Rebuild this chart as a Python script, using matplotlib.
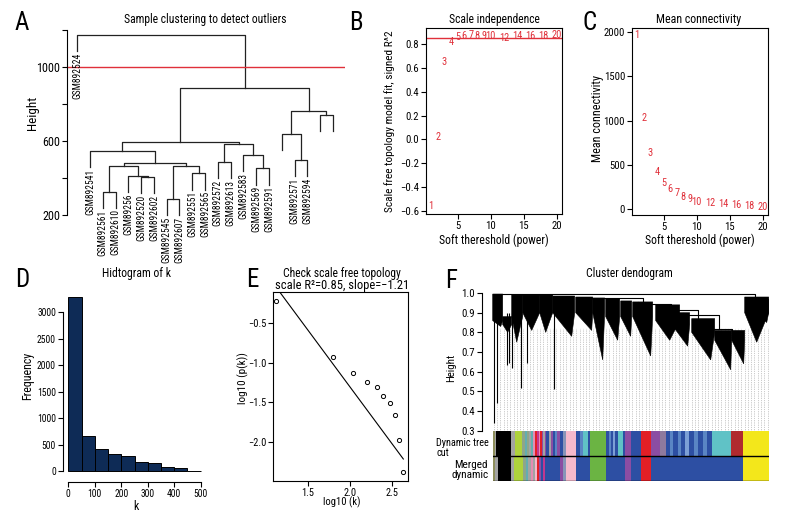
import numpy as np
import matplotlib
matplotlib.use('Agg')
import matplotlib.pyplot as plt
from matplotlib import font_manager
from matplotlib.font_manager import FontProperties
from matplotlib.textpath import TextPath

# ---------------- data ----------------
# A: sample clustering (leaf order left->right, merges as in hclust)
sample_labels = ['GSM892524', 'GSM892541', 'GSM892561', 'GSM892610', 'GSM89256',
                 'GSM892520', 'GSM892602', 'GSM892545', 'GSM892607', 'GSM892551',
                 'GSM892565', 'GSM892572', 'GSM892613', 'GSM892583', 'GSM892569',
                 'GSM892591', '', 'GSM892571', 'GSM892594', '', '']
merge_a = [2, 5, 4, 21, 7, 9, 25, 24, 1, 11, 14, 13, 30, 29, 17, 16, 19, 36, 34, 0]
merge_b = [3, 6, 22, 23, 8, 10, 26, 27, 28, 12, 15, 31, 32, 33, 18, 35, 20, 37, 38, 39]
merge_h = [325, 405, 411, 465, 285, 424, 462, 478, 546, 485, 451, 524, 580, 591,
           496, 636, 739, 762, 883, 1171]
cut_height = 1000

# B, C: soft threshold
powers = [1, 2, 3, 4, 5, 6, 7, 8, 9, 10, 12, 14, 16, 18, 20]
sft_r2 = [-0.56, 0.02, 0.65, 0.82, 0.86, 0.87, 0.875, 0.87, 0.87, 0.87, 0.852, 0.866, 0.866, 0.866, 0.877]
mean_k = [1965, 1025, 630, 420, 298, 223, 178, 132, 110, 83, 65, 57, 40, 38, 26]
r2_cut = 0.85

# D: histogram of k
k_breaks = [0, 50, 100, 150, 200, 250, 300, 350, 400, 450, 500]
k_counts = [3290, 656, 412, 325, 281, 169, 150, 75, 50, 5]

# E: scale free topology
log_k = [1.124, 1.804, 2.034, 2.2, 2.318, 2.39, 2.476, 2.536, 2.587, 2.634]
log_pk = [-0.217, -0.923, -1.126, -1.244, -1.311, -1.421, -1.514, -1.666, -1.98, -2.385]
fit_x = [1.124, 2.634]
fit_y = [-0.04, -2.22]

# F: gene dendrogram, read as drooping branch groups (x = leaf order position)
w_left = [0, 10, 19, 30, 47, 60, 83, 100, 113, 128, 140, 163, 179, 199, 222, 239, 252, 265]
w_right = [10, 19, 30, 47, 60, 82, 100, 112, 127, 139, 160, 187, 197, 222, 239, 252, 276, 276]
w_top = [0.995, 0.88, 0.99, 0.99, 0.99, 0.985, 0.98, 0.975, 0.97, 0.96, 0.955, 0.94,
         0.90, 0.87, 0.81, 0.81, 0.98, 0.97]
w_band = [0.86, 0.84, 0.88, 0.90, 0.90, 0.90, 0.90, 0.90, 0.88, 0.88, 0.88, 0.86,
          0.84, 0.80, 0.76, 0.76, 0.90, 0.90]
w_tipx = [8, 15, 24, 39, 53, 79, 99, 110, 125, 138, 158, 177, 195, 218, 238, 251, 264, 274]
w_tiph = [0.83, 0.80, 0.75, 0.81, 0.80, 0.78, 0.81, 0.66, 0.76, 0.78, 0.68, 0.76, 0.73,
          0.66, 0.61, 0.64, 0.75, 0.85]
spike_x = [1.5, 4.5, 14, 16.6, 19, 28, 34.3, 61]
spike_low = [0.337, 0.44, 0.634, 0.645, 0.62, 0.515, 0.645, 0.51]
link_l = [0, 95, 145, 172, 190, 214]
link_r = [262, 150, 178, 205, 226, 239]
link_h = [0.995, 0.975, 0.945, 0.915, 0.89, 0.815]
link_hl = [0.99, 0.975, 0.955, 0.94, 0.90, 0.81]
link_hr = [0.975, 0.955, 0.94, 0.87, 0.815, 0.81]

# module colours
c = {'olive': '#8e8f5c', 'grey': '#a3a3a3', 'black': '#000000', 'gy': '#aed23c',
     'gg': '#8fa58a', 'teal': '#62aeb0', 'pink2': '#e48cb3', 'red': '#e31f26',
     'mag': '#c2378f', 'purple': '#8b4da3', 'blue': '#2d4fa3', 'steel': '#5a85c4',
     'gb': '#8794b8', 'pink': '#f6b9cc', 'turq': '#60c2c6', 'green': '#6bb443',
     'lsteel': '#7c9fd6', 'gp': '#8e7a9e', 'brown': '#b02a2e', 'yellow': '#f3e71b'}
dyn_edges = [0, 2, 3.7, 18.7, 22, 29.7, 32, 34, 36, 38, 40.3, 42, 44, 46, 47.5, 49, 50.5,
             52, 53.7, 56, 58, 60, 62, 64, 67, 70, 73.7, 83.7, 87, 90.3, 95.3, 97, 113.7,
             116, 118, 120, 122, 125.3, 130.3, 132, 138.7, 148.7, 158.7, 167, 173.7, 177,
             180, 185, 188, 192, 196, 201, 205, 210, 214, 219, 238.3, 250.7, 276]
dyn_cols = ['olive', 'grey', 'black', 'grey', 'gy', 'gg', 'teal', 'gg', 'grey', 'teal',
            'pink2', 'red', 'mag', 'pink2', 'red', 'purple', 'grey', 'purple', 'blue', 'grey',
            'purple', 'blue', 'steel', 'purple', 'blue', 'gb', 'pink', 'blue', 'steel', 'turq',
            'blue', 'green', 'blue', 'steel', 'blue', 'lsteel', 'blue', 'turq', 'blue', 'purple',
            'blue', 'red', 'purple', 'gp', 'blue', 'steel', 'blue', 'steel', 'blue', 'lsteel',
            'blue', 'steel', 'blue', 'steel', 'blue', 'turq', 'brown', 'yellow']
mer_edges = [0, 2, 5.3, 18.7, 21, 30.3, 33, 35, 38, 40, 42, 44, 46, 48, 50, 52, 67, 70,
             73.7, 83.7, 97, 113.7, 132, 138.7, 148.7, 158.7, 250.7, 276]
mer_cols = ['olive', 'grey', 'black', 'grey', 'gy', 'gg', 'teal', 'grey', 'pink2', 'grey',
            'pink', 'red', 'purple', 'blue', 'mag', 'blue', 'purple', 'gb', 'pink', 'blue',
            'green', 'blue', 'purple', 'blue', 'red', 'blue', 'yellow']

# ---------------- font: pick a narrow face if one is there ----------------
names = {f.name for f in font_manager.fontManager.ttflist}
fam, stretch = None, 'normal'
for nm in ['Liberation Sans Narrow', 'Roboto Condensed', 'Open Sans Condensed',
           'Noto Sans Condensed', 'DejaVu Sans Condensed']:
    if nm in names:
        fam = nm
        break
if fam is None:
    for f in font_manager.fontManager.ttflist:
        if f.stretch in ('condensed', 'semi-condensed') and f.style == 'normal' \
                and f.weight in (400, 'normal', 'regular', 'book'):
            fam, stretch = f.name, f.stretch
            break
if fam is None:
    fam = 'Liberation Sans' if 'Liberation Sans' in names else 'DejaVu Sans'
plt.rcParams['font.family'] = [fam, 'DejaVu Sans']
plt.rcParams['font.stretch'] = stretch
plt.rcParams['axes.linewidth'] = 0.8
FP = FontProperties(family=fam, stretch=stretch)
GROW = 1.12   # reference face is narrower than ours, so allow a bit more width


def size_for(s, width_px, cap=9.5, grow=GROW):
    # font size (pt) that gives the text about the width
    w = TextPath((0, 0), s, size=10, prop=FP).get_extents().width * 100 / 72
    return min(cap, 10 * width_px * grow / w)


RED = '#e0303a'
W, H = 792, 528
fig = plt.figure(figsize=(W / 100, H / 100), dpi=100)


def px_axes(l, t, r, b):
    return fig.add_axes([l / W, 1 - b / H, (r - l) / W, (b - t) / H])


def ftext(x, y, s, width, cap=9.5, grow=GROW, **kw):
    kw.setdefault('ha', 'center')
    kw.setdefault('va', 'center')
    fs = size_for(s.split('\n')[0], width, cap, grow)
    fig.text(x / W, 1 - y / H, s, fontsize=fs, **kw)


def r_ticks(ax, sample, width):
    ax.tick_params(direction='out', length=3.5, width=0.8, pad=1.5,
                   labelsize=size_for(sample, width, 9))


def fmt(vals, nd):
    return [('%.*f' % (nd, v)).replace('-', '\u2212') for v in vals]


def only_left(ax, lo, hi):
    for s in ('top', 'right', 'bottom'):
        ax.spines[s].set_visible(False)
    ax.spines['left'].set_bounds(lo, hi)
    ax.set_xticks([])


# ---------------- A ----------------
ax = px_axes(67, 25, 345, 255)
n = len(sample_labels)
hang = 0.1 * (max(merge_h) - min(merge_h))
leaf_fs = size_for('GSM892524', 43, 8, grow=1.05)
node_x = {i: i + 1 for i in range(n)}
node_h = {}
for k, (a, b, h) in enumerate(zip(merge_a, merge_b, merge_h)):
    xa, xb = node_x[a], node_x[b]
    ha_, hb_ = node_h.get(a, h - hang), node_h.get(b, h - hang)
    ax.plot([xa, xa, xb, xb], [ha_, h, h, hb_], color='#222222', lw=0.9)
    for ch in (a, b):
        if ch < n:
            ax.text(node_x[ch], h - hang - 8, sample_labels[ch], rotation=90,
                    ha='center', va='top', fontsize=leaf_fs)
    node_x[n + k] = (xa + xb) / 2
    node_h[n + k] = h
ax.axhline(cut_height, color=RED, lw=1.0)
ax.set_xlim(0.2, 21.95)
ax.set_ylim(-18, 1225)
only_left(ax, 200, 1200)
ax.set_yticks([200, 400, 600, 800, 1000, 1200])
ax.set_yticklabels(['200', '', '600', '', '1000', ''])
r_ticks(ax, '1000', 20)
ftext(205, 20, 'Sample clustering to detect outliers', 144)
ftext(33, 113, 'Height', 30, rotation=90)

# ---------------- B ----------------
ax = px_axes(426, 28, 562, 214)
pt_fs = size_for('10', 8.5, 7.5)
for p, v in zip(powers, sft_r2):
    ax.text(p, v, str(p), color=RED, ha='center', va='center', fontsize=pt_fs)
ax.axhline(r2_cut, color=RED, lw=1.0)
ax.set_xlim(0.24, 20.76)
ax.set_ylim(-0.625, 0.934)
ax.set_xticks([5, 10, 15, 20])
yt = [-0.6, -0.4, -0.2, 0.0, 0.2, 0.4, 0.6, 0.8]
ax.set_yticks(yt)
ax.set_yticklabels(fmt(yt, 1))
r_ticks(ax, '0.8', 11)
ftext(494, 20, 'Scale independence', 81)
ftext(494, 240, 'Soft thereshold (power)', 97)
ftext(390, 121, 'Scale free topology model fit, signed R^2', 182, grow=1.0, rotation=90)

# ---------------- C ----------------
ax = px_axes(632, 28, 768, 215)
for p, v in zip(powers, mean_k):
    ax.text(p, v, str(p), color=RED, ha='center', va='center', fontsize=pt_fs)
ax.set_xlim(0.24, 20.76)
ax.set_ylim(-68, 2049)
ax.set_xticks([5, 10, 15, 20])
ax.set_yticks([0, 500, 1000, 1500, 2000])
r_ticks(ax, '2000', 18)
ftext(699, 20, 'Mean connectivity', 75)
ftext(700, 240, 'Soft thereshold (power)', 97)
ftext(597, 119, 'Mean connectivity', 77, rotation=90)

# ---------------- D ----------------
ax = px_axes(63, 290, 206, 481.7)
ax.bar(k_breaks[:-1], k_counts, width=np.diff(k_breaks), align='edge',
       color='#0e2b56', edgecolor='black', lw=0.7)
ax.set_xlim(-20, 520)
ax.set_ylim(-202, 3421)
ax.spines['top'].set_visible(False)
ax.spines['right'].set_visible(False)
ax.spines['left'].set_bounds(0, 3000)
ax.spines['bottom'].set_bounds(0, 500)
ax.set_xticks([0, 100, 200, 300, 400, 500])
ax.set_yticks([0, 500, 1000, 1500, 2000, 2500, 3000])
r_ticks(ax, '3000', 16)
ftext(137, 273, 'Hidtogram of k', 61)
ftext(136, 507, 'k', 4)
ftext(28, 376, 'Frequency', 42, rotation=90)

# ---------------- E ----------------
ax = px_axes(272.7, 291.7, 408.3, 480.7)
ax.plot(log_k, log_pk, 'o', mfc='none', mec='black', ms=3, mew=0.7)
ax.plot(fit_x, fit_y, color='black', lw=0.8)
ax.set_xlim(1.085, 2.693)
ax.set_ylim(-2.495, -0.1)
xt = [1.5, 2.0, 2.5]
ax.set_xticks(xt)
ax.set_xticklabels(fmt(xt, 1))
yt = [-2.0, -1.5, -1.0, -0.5]
ax.set_yticks(yt)
ax.set_yticklabels(fmt(yt, 1))
r_ticks(ax, '1.5', 10.5)
ax.tick_params(axis='y', pad=1.0)
ftext(342, 273, 'Check scale free topology', 105)
ftext(342, 285, 'scale R\u00b2=0.85, slope=\u22121.21', 117)
ftext(342, 502, 'log10 (k)', 32)
ftext(243, 378, 'log10 (p(k))', 45, rotation=90)

# ---------------- F ----------------
ax = px_axes(481.7, 285, 772, 430.7)
ax.vlines(np.linspace(1, 275, 84), 0.3, 0.82, colors='#9a9a9a',
          linestyles=(0, (1, 1.6)), lw=0.5, zorder=1)
for xl, xr, top, lo, tx, th in zip(w_left, w_right, w_top, w_band, w_tipx, w_tiph):
    ax.fill([xl, xr, xr, tx, xl], [top, top, lo, th, lo], color='black', lw=0.4, zorder=2)
ax.vlines(spike_x, spike_low, 0.9, colors='black', lw=0.8, zorder=2)
for xl, xr, h, hl, hr in zip(link_l, link_r, link_h, link_hl, link_hr):
    ax.plot([xl, xl, xr, xr], [hl, h, h, hr], color='black', lw=0.8, zorder=2)
ax.set_xlim(-11, 279.3)
ax.set_ylim(0.3, 1.041)
only_left(ax, 0.3, 1.0)
yt = [0.3, 0.4, 0.5, 0.6, 0.7, 0.8, 0.9, 1.0]
ax.set_yticks(yt)
ax.set_yticklabels(fmt(yt, 1))
r_ticks(ax, '0.3', 11)
ftext(629, 273, 'Cluster dendogram', 77)
ftext(451, 368, 'Height', 24, rotation=90)

axc = px_axes(492.7, 430.7, 768.7, 481)
axc.bar(dyn_edges[:-1], 1, width=np.diff(dyn_edges), bottom=1, align='edge',
        color=[c[k] for k in dyn_cols], lw=0)
axc.bar(mer_edges[:-1], 1, width=np.diff(mer_edges), bottom=0, align='edge',
        color=[c[k] for k in mer_cols], lw=0)
axc.axhline(1, color='black', lw=1.0)
axc.axhline(0.01, color='black', lw=1.0)
axc.set_xlim(0, 276)
axc.set_ylim(0, 2)
axc.axis('off')
ftext(489, 448, 'Dynamic tree\ncut', 52, grow=1.0, ha='right', multialignment='left', linespacing=0.95)
ftext(489, 470, 'Merged\ndynamic', 32, grow=1.0, ha='right', multialignment='center', linespacing=0.95)

# panel letters
for s, x, y in [('A', 22, 23), ('B', 356, 23), ('C', 590, 23),
                ('D', 22, 280), ('E', 252, 280), ('F', 451, 281)]:
    fig.text(x / W, 1 - y / H, s, fontsize=18, ha='center', va='center')

fig.savefig('out.png', dpi=100)
